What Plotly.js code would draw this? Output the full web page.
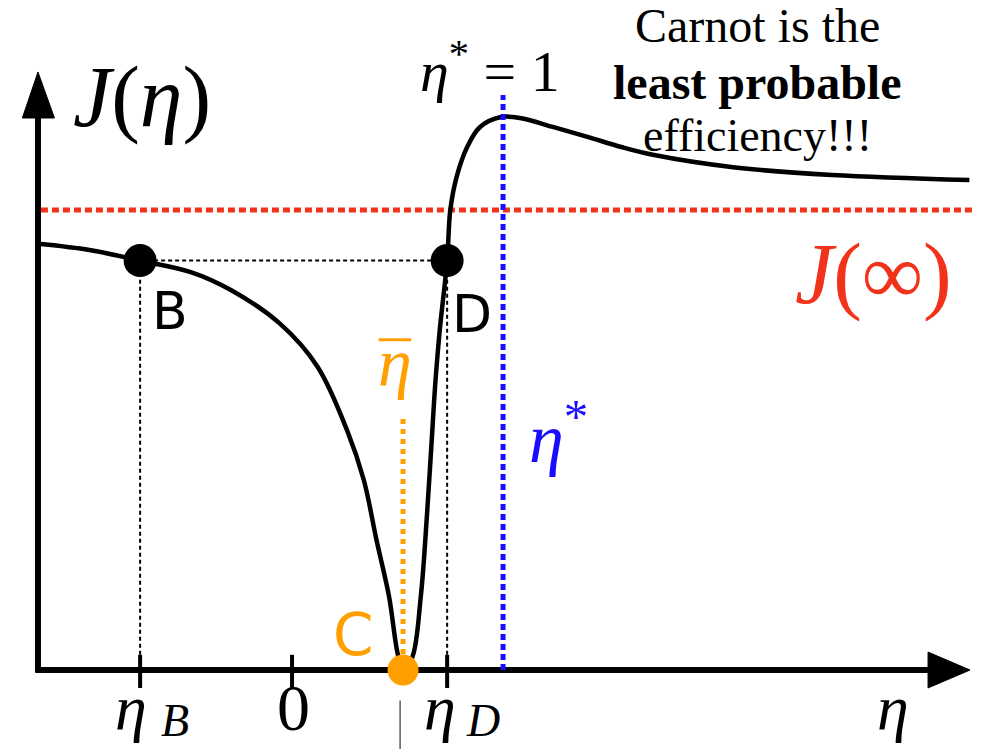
<!DOCTYPE html>
<html>
<head>
<meta charset="utf-8">
<script src="https://cdn.plot.ly/plotly-3.0.1.min.js"></script>
<style>
  html, body { margin: 0; padding: 0; background: #ffffff; }
  #chart { width: 981px; height: 749px; }
</style>
</head>
<body>
<div id="chart"></div>
<script>
// Rate function J(eta) for the efficiency of a small engine.
const curveEta = [-1.19, -0.96, -0.72, -0.48, -0.29, -0.06, 0.12, 0.26, 0.34, 0.40, 0.46, 0.50, 0.526,
                  0.57, 0.61, 0.64, 0.66, 0.68, 0.70, 0.735, 0.75, 0.78, 0.83, 0.89, 0.99, 1.08,
                  1.24, 1.40, 1.56, 1.71, 2.09, 2.56, 3.21];
const curveJ   = [0.926, 0.913, 0.89, 0.865, 0.826, 0.754, 0.660, 0.522, 0.413, 0.283, 0.159, 0.037, 0,
                  0.028, 0.159, 0.341, 0.485, 0.630, 0.739, 0.89, 1.0, 1.072, 1.137, 1.180, 1.202, 1.200,
                  1.180, 1.159, 1.137, 1.120, 1.093, 1.076, 1.065];

// Special efficiencies and levels
const etaB = -0.72;      // point B
const etaD = 0.735;      // point D
const etaBar = 0.526;    // most probable efficiency (C)
const etaStar = 1;       // Carnot efficiency
const levelBD = 0.89;    // J(eta_B) = J(eta_D)
const Jinf = 1;          // asymptotic value J(infinity)

// Axis ticks and their labels (symbol + subscript)
const tickPos = [etaB, 0, etaD];
const tickMain = ['η', '0', 'η'];
const tickSub = ['B', '', 'D'];

// Drawing frame (data units)
const xMin = -1.384, xMax = 3.265;
const yMin = -0.1717, yMax = 1.4565;
const axisX0 = -1.204;       // where the vertical axis stands
const axisXEnd = 3.213;      // tip of horizontal arrow
const axisYEnd = 1.30;       // tip of vertical arrow

const BLACK = '#000000';
const RED = '#f2331c';
const BLUE = '#1a0dff';
const ORANGE = '#ffa000';
const SERIF = 'Liberation Serif, Times New Roman, serif';
const SANS = 'DejaVu Sans, Verdana, sans-serif';

const traces = [
  // J(infinity) level
  { x: [-1.19, 3.24], y: [Jinf, Jinf], mode: 'lines',
    line: { color: RED, width: 5, dash: '7px,4px' }, hoverinfo: 'skip' },
  // the rate function
  { x: curveEta, y: curveJ, mode: 'lines',
    line: { color: BLACK, width: 4.5, shape: 'spline', smoothing: 1 }, hoverinfo: 'skip' },
  // eta* vertical
  { x: [etaStar, etaStar], y: [0, 1.25], mode: 'lines',
    line: { color: BLUE, width: 5, dash: '6px,4px' }, hoverinfo: 'skip' },
  // eta-bar vertical
  { x: [etaBar, etaBar], y: [0.035, 0.55], mode: 'lines',
    line: { color: ORANGE, width: 5, dash: '5px,5px' }, hoverinfo: 'skip' },
  // guides from B and D
  { x: [etaB, etaB], y: [0.033, levelBD], mode: 'lines',
    line: { color: BLACK, width: 2, dash: '4px,3px' }, hoverinfo: 'skip' },
  { x: [etaD, etaD], y: [0.033, levelBD], mode: 'lines',
    line: { color: BLACK, width: 2, dash: '4px,3px' }, hoverinfo: 'skip' },
  { x: [etaB, etaD], y: [levelBD, levelBD], mode: 'lines',
    line: { color: BLACK, width: 2, dash: '4px,3px' }, hoverinfo: 'skip' },
  // points B, D
  { x: [etaB, etaD], y: [levelBD, levelBD], mode: 'markers',
    marker: { color: BLACK, size: 33 }, hoverinfo: 'skip' },
  // point C
  { x: [etaBar], y: [0], mode: 'markers',
    marker: { color: ORANGE, size: 31 }, hoverinfo: 'skip' }
];

// Axes with arrow heads
const shapes = [
  { type: 'line', xref: 'x', yref: 'y', x0: -1.213, x1: 3.02, y0: 0, y1: 0,
    line: { color: BLACK, width: 6 }, layer: 'below' },
  { type: 'path', xref: 'x', yref: 'y',
    path: `M ${axisXEnd} 0 L 3.014 0.039 L 3.014 -0.039 Z`,
    fillcolor: BLACK, line: { color: BLACK, width: 1 }, layer: 'below' },
  { type: 'line', xref: 'x', yref: 'y', x0: axisX0, x1: axisX0, y0: -0.006, y1: 1.21,
    line: { color: BLACK, width: 6 }, layer: 'below' },
  { type: 'path', xref: 'x', yref: 'y',
    path: `M ${axisX0} ${axisYEnd} L ${axisX0 - 0.074} 1.20 L ${axisX0 + 0.078} 1.20 Z`,
    fillcolor: BLACK, line: { color: BLACK, width: 1 }, layer: 'below' },
  // thin mark under eta-bar
  { type: 'line', xref: 'x', yref: 'y', x0: 0.512, x1: 0.512, y0: -0.066, y1: -0.175,
    line: { color: '#333333', width: 1.2 }, layer: 'below' },
  // bar over the eta-bar label
  { type: 'line', xref: 'x', yref: 'y', x0: 0.41, x1: 0.565, y0: 0.718, y1: 0.718,
    line: { color: ORANGE, width: 3 } }
];
tickPos.forEach(p => shapes.push({
  type: 'line', xref: 'x', yref: 'y', x0: p, x1: p, y0: 0.033, y1: -0.039,
  line: { color: BLACK, width: 4 }, layer: 'below'
}));

function label(x, y, text, size, color, family) {
  return { x: x, y: y, xref: 'x', yref: 'y', text: text, showarrow: false,
    font: { size: size, color: color, family: family }, xanchor: 'center', yanchor: 'middle' };
}

const annotations = [
  label(-0.711, 1.245, '<i>J</i>(<i>η</i>)', 86, BLACK, SERIF),
  label(0.938, 1.309, '<i>η</i><sup>*</sup> = 1', 58, BLACK, SERIF),
  label(2.204, 1.402, 'Carnot is the', 48, BLACK, SERIF),
  label(2.204, 1.278, '<b>least probable</b>', 48, BLACK, SERIF),
  label(2.204, 1.163, 'efficiency!!!', 46, BLACK, SERIF),
  label(2.754, 0.860, '<i>J</i>(∞)', 86, RED, SERIF),
  label(-0.578, 0.780, 'B', 52, BLACK, SANS),
  label(0.853, 0.774, 'D', 52, BLACK, SANS),
  label(0.289, 0.076, 'C', 58, ORANGE, SANS),
  label(0.488, 0.668, '<i>η</i>', 68, ORANGE, SERIF),
  label(1.261, 0.515, '<i>η</i><sup>*</sup>', 70, BLUE, SERIF),
  label(2.848, -0.081, '<i>η</i>', 64, BLACK, SERIF)
];
// tick labels: main symbol, then an italic subscript beside it
const mainShift = [-0.044, 0.005, -0.033];
const subShift = [0.165, 0, 0.17];
tickPos.forEach((p, i) => {
  const isNum = tickMain[i] === '0';
  annotations.push(label(p + mainShift[i], -0.081,
    isNum ? tickMain[i] : '<i>' + tickMain[i] + '</i>', isNum ? 66 : 64, BLACK, SERIF));
  if (tickSub[i]) {
    annotations.push(label(p + subShift[i], -0.110, '<i>' + tickSub[i] + '</i>', 46, BLACK, SERIF));
  }
});

const layout = {
  width: 981, height: 749,
  margin: { l: 0, r: 0, t: 0, b: 0 },
  paper_bgcolor: '#ffffff', plot_bgcolor: '#ffffff',
  showlegend: false,
  xaxis: { range: [xMin, xMax], visible: false, fixedrange: true },
  yaxis: { range: [yMin, yMax], visible: false, fixedrange: true },
  shapes: shapes,
  annotations: annotations
};

Plotly.newPlot('chart', traces, layout, { staticPlot: true, displayModeBar: false });
</script>
</body>
</html>
